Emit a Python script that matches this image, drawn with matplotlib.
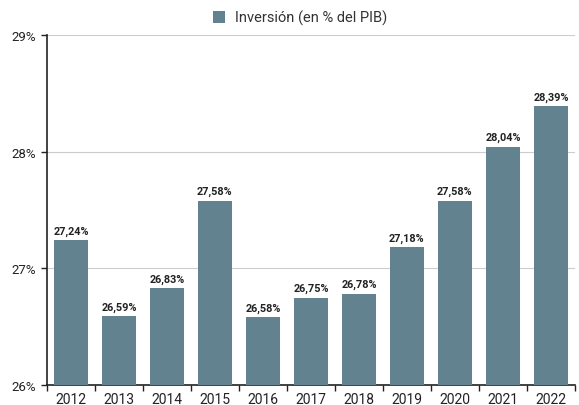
import matplotlib
matplotlib.use("Agg")
import matplotlib.pyplot as plt
import numpy as np

years = ["2012", "2013", "2014", "2015", "2016", "2017", "2018", "2019", "2020", "2021", "2022"]
values = [27.24, 26.59, 26.83, 27.58, 26.58, 26.75, 26.78, 27.18, 27.58, 28.04, 28.39]
labels = ["27,24%", "26,59%", "26,83%", "27,58%", "26,58%", "26,75%", "26,78%", "27,18%", "27,58%", "28,04%", "28,39%"]
yticks = [26, 27, 28, 29]
ytick_labels = ["26%", "27%", "28%", "29%"]
series_name = "Inversión (en % del PIB)"

plt.rcParams['font.family'] = ['Roboto', 'DejaVu Sans']
color = "#62828f"

fig = plt.figure(figsize=(5.79, 4.06), dpi=100)
ax = fig.add_axes([0.081, 0.049, 0.912, 0.862])

x = np.arange(len(years))
bars = ax.bar(x, values, width=0.72, color=color, zorder=3, label=series_name)

ax.set_ylim(26, 29)
ax.set_xlim(-0.5, len(years) - 0.5)
ax.set_yticks(yticks)
ax.set_yticklabels(ytick_labels, fontsize=9.5, color="#222222")
ax.yaxis.grid(True, color="#cccccc", linewidth=0.8, zorder=0)

ax.set_xticks(np.arange(-0.5, len(years) - 0.5 + 0.01, 1.0))
ax.set_xticklabels([])
ax.set_xticks(x, minor=True)
ax.set_xticklabels(years, minor=True, fontsize=10, color="#222222")
ax.tick_params(axis="x", which="minor", length=0, pad=5)
ax.tick_params(axis="x", which="major", length=4, width=1, color="#222222")
ax.tick_params(axis="y", length=4, width=1, color="#222222", pad=4)

for s in ["top", "right"]:
    ax.spines[s].set_visible(False)
for s in ["left", "bottom"]:
    ax.spines[s].set_color("#222222")
    ax.spines[s].set_linewidth(1.2)

for xi, v, lab in zip(x, values, labels):
    ax.text(xi, v + 0.04, lab, ha="center", va="bottom", fontsize=7.8,
            fontweight="bold", color="#222222", zorder=4)

leg = fig.legend(handles=[bars], labels=[series_name], loc="upper center",
                 bbox_to_anchor=(0.518, 1.005), frameon=False, fontsize=10.5,
                 handlelength=0.8, handleheight=0.8, handletextpad=0.7)
for t in leg.get_texts():
    t.set_color("#333333")

fig.savefig("out.png", dpi=100)
